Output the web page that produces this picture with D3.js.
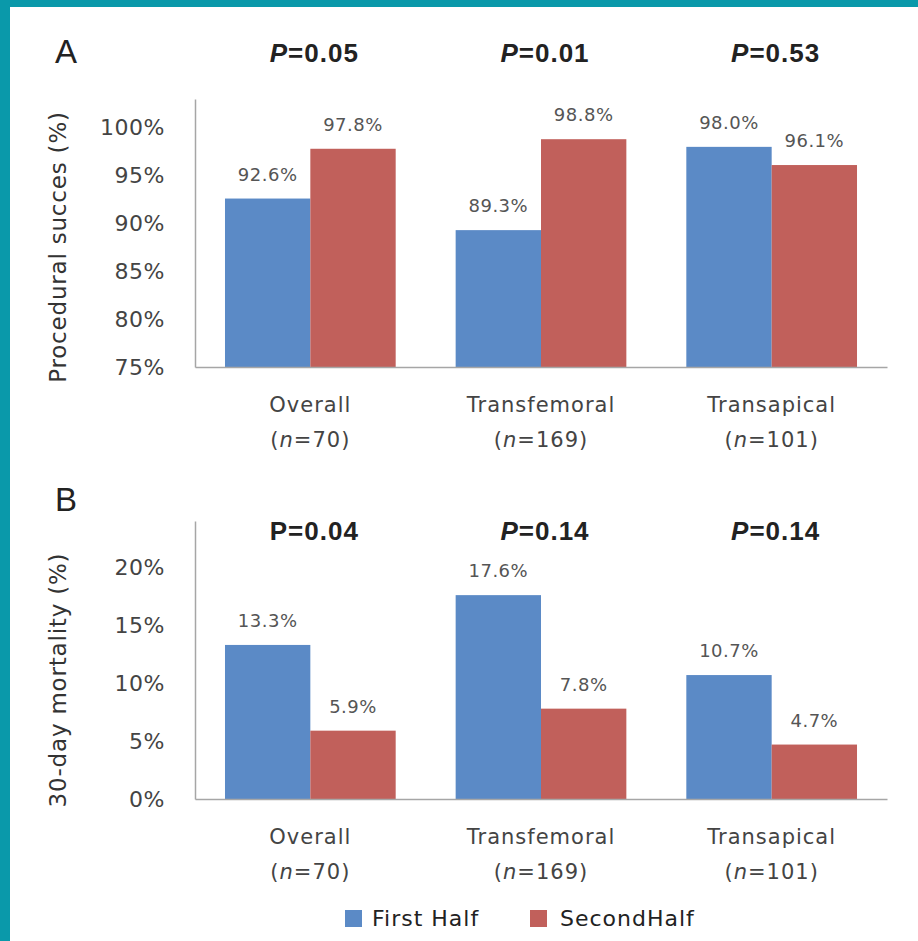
<!DOCTYPE html>
<html>
<head>
<meta charset="utf-8">
<script src="https://cdn.jsdelivr.net/npm/d3@7"></script>
<style>
  body { margin: 0; background: #0a99aa; }
  #chart { position: absolute; left: 10px; top: 7px; }
</style>
</head>
<body>
<div id="chart"></div>
<script>
// values
var categories = ["Overall", "Transfemoral", "Transapical"];
var sampleSizes = ["70", "169", "101"];
var seriesNames = ["First Half", "SecondHalf"];
var successFirst = [92.6, 89.3, 98.0];
var successSecond = [97.8, 98.8, 96.1];
var successP = ["0.05", "0.01", "0.53"];
var successTicks = [75, 80, 85, 90, 95, 100];
var mortalityFirst = [13.3, 17.6, 10.7];
var mortalitySecond = [5.9, 7.8, 4.7];
var mortalityP = ["0.04", "0.14", "0.14"];
var mortalityTicks = [0, 5, 10, 15, 20];

var colors = ["#5b8ac6", "#c1605b"];
var ox = 10, oy = 7; // offset of white panel

var svg = d3.select("#chart")
    .append("svg")
    .attr("width", 918 - ox)
    .attr("height", 941 - oy)
    .style("background", "#ffffff");

var g = svg.append("g")
    .attr("transform", "translate(" + (-ox) + "," + (-oy) + ")");

var x0 = d3.scaleBand()
    .domain(categories)
    .range([195, 887])
    .paddingInner(0.26)
    .paddingOuter(0.13);

var x1 = d3.scaleBand()
    .domain([0, 1])
    .range([0, x0.bandwidth()]);

function drawPanel(opt) {
    var y = d3.scaleLinear()
        .domain(opt.domain)
        .range(opt.range);

    var data = categories.map(function(c, i) {
        return { cat: c, vals: [opt.first[i], opt.second[i]], p: opt.p[i], n: sampleSizes[i] };
    });

    // panel letter
    g.append("text")
        .attr("x", 55)
        .attr("y", opt.letterY)
        .style("font-family", "Liberation Sans, Arial, sans-serif")
        .style("font-size", "33px")
        .attr("fill", "#222")
        .text(opt.letter);

    // y axis
    var yAxis = g.append("g")
        .attr("transform", "translate(195,0)")
        .call(d3.axisLeft(y).tickValues(opt.ticks).tickSize(0).tickPadding(30)
            .tickFormat(function(d) { return d + "%"; }));
    yAxis.select(".domain").attr("stroke", "#a6a6a6").attr("stroke-width", 1.5);
    yAxis.selectAll("text")
        .style("font-family", "DejaVu Sans, sans-serif")
        .style("font-size", "22px")
        .style("letter-spacing", "0.5px")
        .attr("fill", "#444");

    g.append("text")
        .attr("transform", "translate(" + opt.titleX + "," + opt.titleY + ")rotate(-90)")
        .attr("text-anchor", "middle")
        .style("font-family", "DejaVu Sans, sans-serif")
        .style("font-size", "23px")
        .style("letter-spacing", "0.8px")
        .attr("fill", "#333")
        .text(opt.title);

    // bars
    var groups = g.selectAll(null)
        .data(data)
        .enter()
        .append("g")
        .attr("transform", function(d) { return "translate(" + x0(d.cat) + ",0)"; });

    groups.selectAll("rect")
        .data(function(d) { return d.vals; })
        .enter()
        .append("rect")
        .attr("x", function(d, i) { return x1(i); })
        .attr("y", function(d) { return y(d); })
        .attr("width", x1.bandwidth())
        .attr("height", function(d) { return y(opt.domain[0]) - y(d); })
        .attr("fill", function(d, i) { return colors[i]; });

    groups.selectAll(".val")
        .data(function(d) { return d.vals; })
        .enter()
        .append("text")
        .attr("class", "val")
        .attr("x", function(d, i) { return x1(i) + x1.bandwidth() / 2; })
        .attr("y", function(d) { return y(d) - 18; })
        .attr("text-anchor", "middle")
        .style("font-family", "DejaVu Sans, sans-serif")
        .style("font-size", "18px")
        .style("letter-spacing", "0.5px")
        .attr("fill", "#555")
        .text(function(d) { return d.toFixed(1) + "%"; });

    // x axis line
    var xAxis = g.append("g")
        .attr("transform", "translate(0," + y(opt.domain[0]) + ")")
        .call(d3.axisBottom(x0).tickSize(0).tickFormat(""));
    xAxis.select(".domain").attr("stroke", "#a6a6a6").attr("stroke-width", 1.5);

    // category labels
    var lab = g.selectAll(null)
        .data(data)
        .enter()
        .append("text")
        .attr("text-anchor", "middle")
        .style("font-family", "DejaVu Sans, sans-serif")
        .style("font-size", "21px")
        .style("letter-spacing", "1px")
        .attr("fill", "#444");
    lab.append("tspan")
        .attr("x", function(d) { return x0(d.cat) + x0.bandwidth() / 2; })
        .attr("y", y(opt.domain[0]) + 45)
        .text(function(d) { return d.cat; });
    var l2 = lab.append("tspan")
        .attr("x", function(d) { return x0(d.cat) + x0.bandwidth() / 2; })
        .attr("y", y(opt.domain[0]) + 80);
    l2.append("tspan").text("(");
    l2.append("tspan").style("font-style", "italic").text("n");
    l2.append("tspan").text(function(d) { return "=" + d.n + ")"; });

    // p values
    var pt = g.selectAll(null)
        .data(data)
        .enter()
        .append("text")
        .attr("x", function(d) { return x0(d.cat) + x0.bandwidth() / 2 + 4; })
        .attr("y", opt.pY)
        .attr("text-anchor", "middle")
        .style("font-family", "Liberation Sans, Arial, sans-serif")
        .style("font-size", "26px")
        .style("font-weight", "bold")
        .style("letter-spacing", "1px")
        .attr("fill", "#222");
    pt.append("tspan")
        .style("font-style", function(d, i) { return opt.italicP[i] ? "italic" : "normal"; })
        .text("P");
    pt.append("tspan").text(function(d) { return "=" + d.p; });
}

drawPanel({
    letter: "A", letterY: 63,
    domain: [75, 103], range: [367, 99],
    ticks: successTicks,
    first: successFirst, second: successSecond, p: successP,
    italicP: [true, true, true],
    title: "Procedural succes (%)", titleX: 66, titleY: 247,
    pY: 62
});

drawPanel({
    letter: "B", letterY: 511,
    domain: [0, 24], range: [799, 521],
    ticks: mortalityTicks,
    first: mortalityFirst, second: mortalitySecond, p: mortalityP,
    italicP: [false, true, true],
    title: "30-day mortality (%)", titleX: 66, titleY: 680,
    pY: 540
});

// legend
var legend = g.append("g")
    .attr("transform", "translate(345,910)");
var item = legend.selectAll(null)
    .data(seriesNames)
    .enter()
    .append("g")
    .attr("transform", function(d, i) { return "translate(" + (i * 185) + ",0)"; });
item.append("rect")
    .attr("width", 17)
    .attr("height", 17)
    .attr("fill", function(d, i) { return colors[i]; });
item.append("text")
    .attr("x", function(d, i) { return i === 0 ? 27 : 30; })
    .attr("y", 16)
    .style("font-family", "DejaVu Sans, sans-serif")
    .style("font-size", "22px")
    .style("letter-spacing", "1px")
    .attr("fill", "#222")
    .text(function(d) { return d; });
</script>
</body>
</html>
